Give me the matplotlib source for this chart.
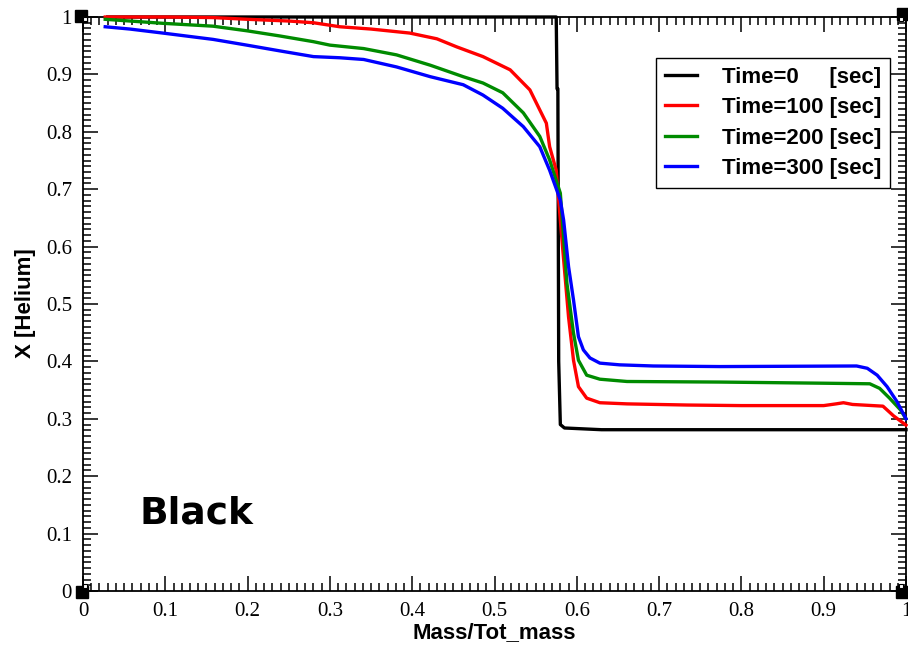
import numpy as np
import matplotlib
matplotlib.use('Agg')
import matplotlib.pyplot as plt
from matplotlib.ticker import MultipleLocator, FuncFormatter
from matplotlib.transforms import ScaledTranslation

# helium fraction vs mass coordinate
black_x = [0.03, 0.575, 0.576, 0.577, 0.578, 0.580, 0.585, 0.60, 0.63, 1.0]
black_y = [1.0, 1.0, 0.875, 0.875, 0.40, 0.29, 0.284, 0.283, 0.281, 0.281]

red_x = [0.027, 0.10, 0.158, 0.20, 0.25, 0.28, 0.312, 0.35, 0.397, 0.43, 0.454,
         0.486, 0.519, 0.543, 0.563, 0.567, 0.575, 0.583, 0.590, 0.596, 0.602,
         0.612, 0.628, 0.661, 0.734, 0.80, 0.90, 0.915, 0.924, 0.935, 0.972,
         0.985, 1.0]
red_y = [1.0, 1.0, 0.999, 0.996, 0.993, 0.99, 0.983, 0.979, 0.972, 0.962, 0.948,
         0.931, 0.908, 0.873, 0.815, 0.774, 0.733, 0.594, 0.477, 0.402, 0.356,
         0.336, 0.328, 0.326, 0.324, 0.323, 0.323, 0.326, 0.328, 0.325, 0.322,
         0.305, 0.289]

green_x = [0.027, 0.097, 0.158, 0.199, 0.239, 0.28, 0.30, 0.341, 0.381, 0.422,
           0.462, 0.486, 0.51, 0.535, 0.555, 0.567, 0.58, 0.588, 0.596, 0.602,
           0.612, 0.628, 0.661, 0.774, 0.90, 0.956, 0.968, 0.98, 0.993, 1.0]
green_y = [0.996, 0.989, 0.984, 0.976, 0.967, 0.957, 0.951, 0.945, 0.934, 0.916,
           0.896, 0.885, 0.868, 0.833, 0.792, 0.751, 0.693, 0.536, 0.449, 0.402,
           0.376, 0.369, 0.365, 0.364, 0.362, 0.361, 0.353, 0.336, 0.316, 0.30]

blue_x = [0.027, 0.057, 0.097, 0.158, 0.199, 0.239, 0.28, 0.312, 0.341, 0.381,
          0.422, 0.462, 0.486, 0.51, 0.535, 0.555, 0.567, 0.58, 0.584, 0.59,
          0.596, 0.602, 0.608, 0.616, 0.628, 0.652, 0.693, 0.774, 0.94, 0.953,
          0.965, 0.977, 0.989, 1.0]
blue_y = [0.983, 0.979, 0.972, 0.961, 0.951, 0.941, 0.931, 0.929, 0.926, 0.913,
          0.896, 0.882, 0.864, 0.841, 0.809, 0.774, 0.733, 0.681, 0.646, 0.565,
          0.507, 0.443, 0.42, 0.406, 0.397, 0.394, 0.392, 0.391, 0.392, 0.388,
          0.376, 0.356, 0.33, 0.30]

labels = ['Time=0     [sec]', 'Time=100 [sec]', 'Time=200 [sec]', 'Time=300 [sec]']
colores = ['black', '#ff0000', '#008b00', '#0000ff']

sans = 'Liberation Sans'
serif = 'Liberation Serif'

fig = plt.figure(figsize=(9.08, 6.46), dpi=100)
ax = fig.add_axes([83/908, 55/646, 823/908, 574/646])

series = [(black_x, black_y), (red_x, red_y), (green_x, green_y), (blue_x, blue_y)]
for (xs, ys), c, lab in zip(series, colores, labels):
    ax.plot(xs, ys, color=c, lw=2.4, label=lab, clip_on=False, zorder=3)

ax.set_xlim(0, 1)
ax.set_ylim(0, 1)
ax.xaxis.set_major_locator(MultipleLocator(0.1))
ax.xaxis.set_minor_locator(MultipleLocator(0.01))
ax.yaxis.set_major_locator(MultipleLocator(0.1))
ax.yaxis.set_minor_locator(MultipleLocator(0.01))
fmt = FuncFormatter(lambda v, p: '%g' % round(v, 2))
ax.xaxis.set_major_formatter(fmt)
ax.yaxis.set_major_formatter(fmt)
ax.tick_params(which='both', direction='in', top=True, right=True, width=1.1)
ax.tick_params(which='major', length=11, pad=8, labelsize=15)
ax.tick_params(which='minor', length=5.8)
for lb in ax.get_xticklabels() + ax.get_yticklabels():
    lb.set_family(serif)
for s in ax.spines.values():
    s.set_linewidth(1.3)

ax.set_xlabel('Mass/Tot_mass', family=sans, weight='bold', fontsize=16, labelpad=1)
fig.text(26/908, 1 - 303/646, 'X [Helium]', rotation=90, ha='center', va='center',
         family=sans, weight='bold', fontsize=16)

ax.text(0.069, 0.135, 'Black', transform=ax.transAxes, family='DejaVu Sans',
        weight='bold', fontsize=27, ha='left', va='center')

leg = ax.legend(loc='upper right', bbox_to_anchor=((890-83)/823, (591-58)/574),
                borderaxespad=0, prop={'family': sans, 'weight': 'bold', 'size': 16},
                handlelength=1.46, handletextpad=1.1, labelspacing=0.42,
                borderpad=0.4, fancybox=False, framealpha=1, edgecolor='black')
leg.get_frame().set_linewidth(1.0)

# grace-style corner squares
for cx, cy, dx, dy in [(0, 1, -2, 1), (1, 1, -3, 3), (0, 0, -1, -1), (1, 0, -4, -1)]:
    off = ScaledTranslation(dx/100, dy/100, fig.dpi_scale_trans)
    ax.plot([cx], [cy], 's', color='black', ms=8, transform=ax.transData + off,
            clip_on=False, zorder=5)
    off2 = ScaledTranslation((2 if cx == 0 else -5)/100, (-2 if cy == 1 else 5)/100,
                             fig.dpi_scale_trans)
    ax.plot([cx], [cy], 's', mfc='white', mec='black', mew=0.8, ms=3.5,
            transform=ax.transData + off2, clip_on=False, zorder=6)

fig.savefig('out.png', dpi=100)
